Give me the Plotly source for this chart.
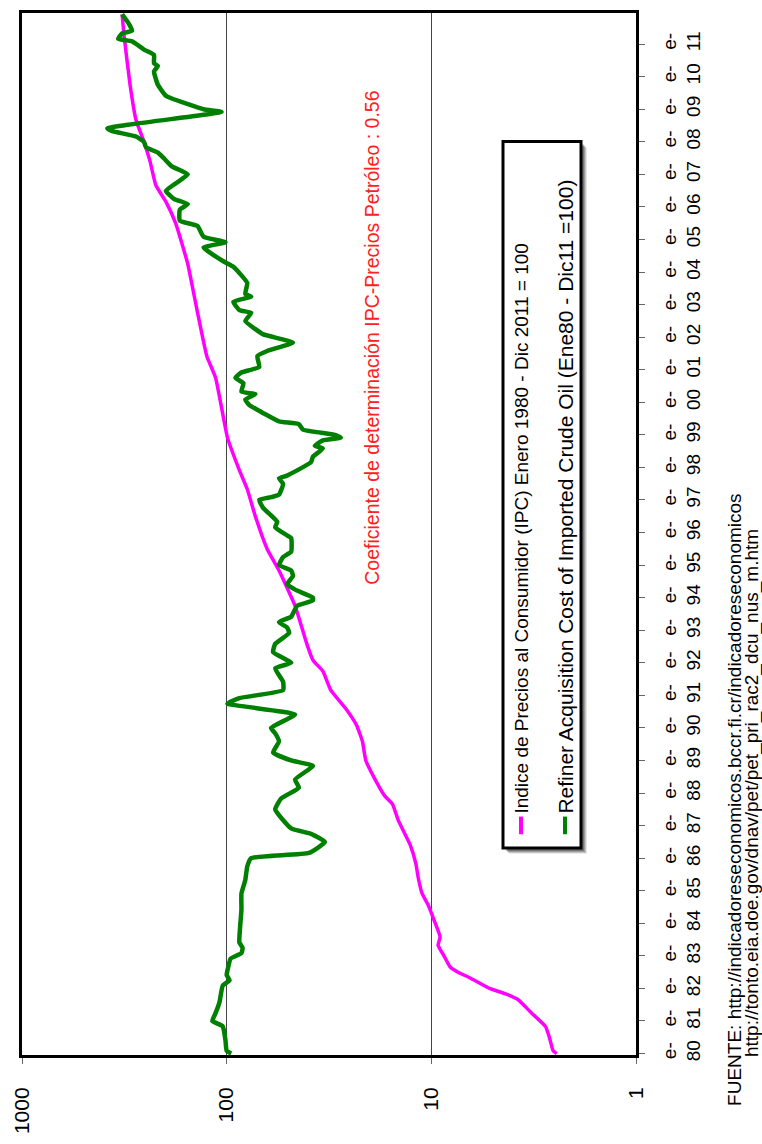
import plotly.graph_objects as go

# Índice de Precios al Consumidor (IPC) - lecturas mensuales seleccionadas
cpi_dates = [
    "1980-01", "1980-02", "1980-07", "1980-11", "1981-04", "1981-09", "1981-11",
    "1982-01", "1982-05", "1982-07", "1982-09", "1983-01", "1983-05", "1983-08",
    "1984-02", "1984-08", "1984-12", "1985-06", "1985-11", "1986-06", "1987-03",
    "1987-09", "1987-12", "1988-05", "1989-01", "1989-08", "1990-02", "1990-08",
    "1991-03", "1991-10", "1992-02", "1992-08", "1993-10", "1994-11", "1995-07",
    "1996-07", "1997-05", "1997-12", "1998-12", "2000-10", "2001-06", "2002-10",
    "2003-09", "2004-04", "2005-07", "2006-03", "2006-09", "2007-06", "2008-01",
    "2008-09", "2009-10", "2011-04", "2011-12",
]
cpi_values = [
    2.44, 2.54, 2.65, 2.77, 3.24, 3.79, 4.34,
    5.19, 6.49, 7.41, 8.11, 8.67, 9.27, 9.06,
    9.68, 10.4, 11.1, 11.6, 11.9, 12.7, 14.5,
    15.5, 16.9, 18.5, 20.9, 21.7, 23.2, 26.1,
    31.0, 33.9, 37.9, 40.6, 46.3, 55.5, 63.4,
    72.4, 79.3, 86.7, 99.1, 113.2, 125.0, 138.7,
    148.3, 154.9, 177.4, 198.2, 221.8, 237.1, 253.5,
    277.3, 296.5, 317.0, 324.3,
]

# Refiner Acquisition Cost of Imported Crude Oil (índice)
oil_dates = [
    "1980-01", "1980-02", "1980-06", "1980-11", "1981-01", "1981-04", "1981-08",
    "1982-02", "1982-04", "1982-06", "1982-09", "1982-12", "1983-02", "1983-04",
    "1983-06", "1983-12", "1984-06", "1984-12", "1985-05", "1985-10", "1986-01",
    "1986-03", "1986-07", "1986-10", "1986-12", "1987-07", "1987-11", "1988-03",
    "1988-06", "1988-11", "1989-01", "1989-04", "1989-08", "1989-11", "1990-01",
    "1990-06", "1990-10", "1990-12", "1991-03", "1991-06", "1991-11", "1992-01",
    "1992-05", "1992-08", "1992-12", "1993-02", "1993-04", "1993-06", "1993-10",
    "1993-12", "1994-01", "1994-04", "1994-06", "1994-09", "1994-11", "1995-01",
    "1995-04", "1995-06", "1995-11", "1995-12", "1996-03", "1996-05", "1996-07",
    "1996-10", "1997-01", "1997-02", "1997-03", "1997-07", "1997-09", "1997-10",
    "1998-03", "1998-05", "1998-08", "1998-09", "1998-11", "1998-12", "1999-01",
    "1999-03", "1999-05", "1999-06", "1999-09", "1999-12", "2000-02", "2000-04",
    "2000-05", "2000-08", "2000-10", "2000-12", "2001-02", "2001-06", "2001-08",
    "2001-11", "2002-02", "2002-04", "2002-07", "2002-10", "2002-11", "2003-02",
    "2003-04", "2003-05", "2003-09", "2004-03", "2004-05", "2004-10", "2004-12",
    "2005-02", "2005-06", "2005-08", "2005-12", "2006-02", "2006-04", "2006-07",
    "2007-01", "2007-04", "2007-07", "2007-09", "2007-11", "2008-01", "2008-03",
    "2008-05", "2008-06", "2008-12", "2009-01", "2009-05", "2009-06", "2009-10",
    "2010-03", "2010-05", "2010-06", "2010-09", "2010-11", "2011-02", "2011-03",
    "2011-05", "2011-06", "2011-09", "2011-11", "2011-12",
]
oil_values = [
    95.0, 100.0, 101.4, 104.5, 117.5, 113.2, 108.4,
    104.5, 96.8, 100.0, 98.2, 95.7, 84.7, 83.6,
    86.7, 85.9, 84.7, 84.7, 81.1, 79.3, 75.9,
    39.6, 33.1, 38.7, 48.4, 57.9, 54.2, 44.4,
    46.3, 37.9, 48.4, 59.3, 55.5, 57.9, 60.7,
    46.3, 99.1, 86.7, 53.0, 53.0, 57.9, 48.4,
    59.3, 57.9, 49.5, 50.7, 55.5, 48.4, 45.3,
    37.9, 37.9, 46.3, 50.7, 47.4, 48.4, 55.5,
    53.0, 48.4, 48.4, 50.7, 57.9, 56.6, 60.0,
    66.2, 69.3, 60.7, 55.5, 53.0, 55.5, 50.7,
    38.7, 37.9, 33.9, 37.1, 33.9, 27.7, 29.6,
    42.4, 44.4, 55.5, 66.2, 77.4, 81.1, 72.4,
    84.7, 82.8, 90.6, 84.7, 69.3, 70.8, 63.0,
    47.4, 66.2, 72.4, 81.1, 75.9, 86.7, 92.7,
    75.9, 81.1, 79.3, 92.7, 103.8, 129.7, 101.4,
    129.7, 138.7, 169.4, 169.4, 154.9, 181.1, 198.2,
    154.9, 185.4, 202.8, 216.8, 247.7, 253.5, 277.3,
    362.2, 382.8, 105.9, 129.7, 185.4, 198.2, 216.8,
    226.5, 216.8, 226.5, 226.5, 253.5, 289.7, 338.8,
    324.3, 289.7, 303.4, 317.0, 324.3,
]

year_labels = ["80", "81", "82", "83", "84", "85", "86", "87", "88", "89", "90",
               "91", "92", "93", "94", "95", "96", "97", "98", "99", "00", "01",
               "02", "03", "04", "05", "06", "07", "08", "09", "10", "11"]
year_ticks = [f"{1980 + i}-01-01" for i in range(len(year_labels))]
year_text = [f"e-<br>{lab}" for lab in year_labels]

value_ticks = [1, 10, 100, 1000]
value_text = ["1", "10", "100", "1000"]

FONT = "Arial, Liberation Sans, sans-serif"
CPI_COLOR = "#FF00FF"
OIL_COLOR = "#008000"

# plot-area geometry in pixels (used only to place decorations in paper space)
W, H = 762, 1144
L, R, T, B = 22, 636, 10, 1072


def px(x):
    return (x - L) / (R - L)


def py(y):
    return (B - y) / (B - T)


fig = go.Figure()
fig.add_trace(go.Scatter(x=cpi_values, y=cpi_dates, mode="lines",
                         line=dict(color=CPI_COLOR, width=3.5, shape="spline", smoothing=0.4),
                         showlegend=False))
fig.add_trace(go.Scatter(x=oil_values, y=oil_dates, mode="lines",
                         line=dict(color=OIL_COLOR, width=4.5, shape="spline", smoothing=0.4),
                         showlegend=False))

shapes = []
# legend box with soft drop shadow
for off, op in [(6, 0.10), (5, 0.15), (4, 0.2), (3, 0.25)]:
    shapes.append(dict(type="rect", xref="paper", yref="paper",
                       x0=px(503 + off), x1=px(581 + off), y0=py(861 + off), y1=py(141 + off),
                       line=dict(width=0), fillcolor=f"rgba(0,0,0,{op})", layer="above"))
shapes.append(dict(type="rect", xref="paper", yref="paper",
                   x0=px(503), x1=px(581), y0=py(861), y1=py(141),
                   line=dict(color="black", width=3), fillcolor="white", layer="above"))
shapes.append(dict(type="line", xref="paper", yref="paper",
                   x0=px(521), x1=px(521), y0=py(847), y1=py(829),
                   line=dict(color=CPI_COLOR, width=4), layer="above"))
shapes.append(dict(type="line", xref="paper", yref="paper",
                   x0=px(565), x1=px(565), y0=py(847), y1=py(829),
                   line=dict(color=OIL_COLOR, width=4), layer="above"))

annotations = [
    dict(text="Indice de Precios al Consumidor (IPC) Enero 1980 - Dic 2011 = 100",
         x=px(522), y=py(828), xanchor="center", yanchor="bottom", textangle=-90,
         font=dict(family=FONT, size=19, color="black")),
    dict(text="Refiner Acquisition Cost of Imported Crude Oil (Ene80 - Dic11 =100)",
         x=px(566), y=py(828), xanchor="center", yanchor="bottom", textangle=-90,
         font=dict(family=FONT, size=21, color="black")),
    dict(text="Coeficiente de determinación IPC-Precios Petróleo : 0.56",
         x=px(372), y=py(341), xanchor="center", yanchor="middle", textangle=-90,
         font=dict(family=FONT, size=19.5, color="#FF2020")),
    dict(text="FUENTE: http://indicadoreseconomicos.bccr.fi.cr/indicadoreseconomicos",
         x=px(735), y=py(812), xanchor="center", yanchor="middle", textangle=-90,
         font=dict(family=FONT, size=19, color="black")),
    dict(text="http://tonto.eia.doe.gov/dnav/pet/pet_pri_rac2_dcu_nus_m.htm",
         x=px(752), y=py(805), xanchor="center", yanchor="middle", textangle=-90,
         font=dict(family=FONT, size=19, color="black")),
]
for a in annotations:
    a.update(xref="paper", yref="paper", showarrow=False)

fig.update_layout(
    width=W, height=H,
    margin=dict(l=L, r=W - R, t=T, b=H - B),
    paper_bgcolor="white", plot_bgcolor="white",
    shapes=shapes, annotations=annotations,
    xaxis=dict(type="log", range=[3, 0], tickvals=value_ticks, ticktext=value_text,
               tickangle=-90, ticks="outside", ticklen=6, tickcolor="#666",
               ticklabelstandoff=15,
               tickfont=dict(family=FONT, size=21, color="black"),
               showgrid=True, gridcolor="#444", gridwidth=1,
               showline=True, linecolor="black", linewidth=3, mirror=True,
               zeroline=False),
    yaxis=dict(type="date", range=["1979-12-16", "2011-12-16"], side="right",
               tickvals=year_ticks, ticktext=year_text, tickangle=-90,
               ticks="outside", ticklen=6, tickcolor="#666",
               ticklabelstandoff=8,
               tickfont=dict(family=FONT, size=19, color="black"),
               showgrid=False, showline=True, linecolor="black", linewidth=3,
               mirror=True, zeroline=False),
)

fig.write_html("out.html")
